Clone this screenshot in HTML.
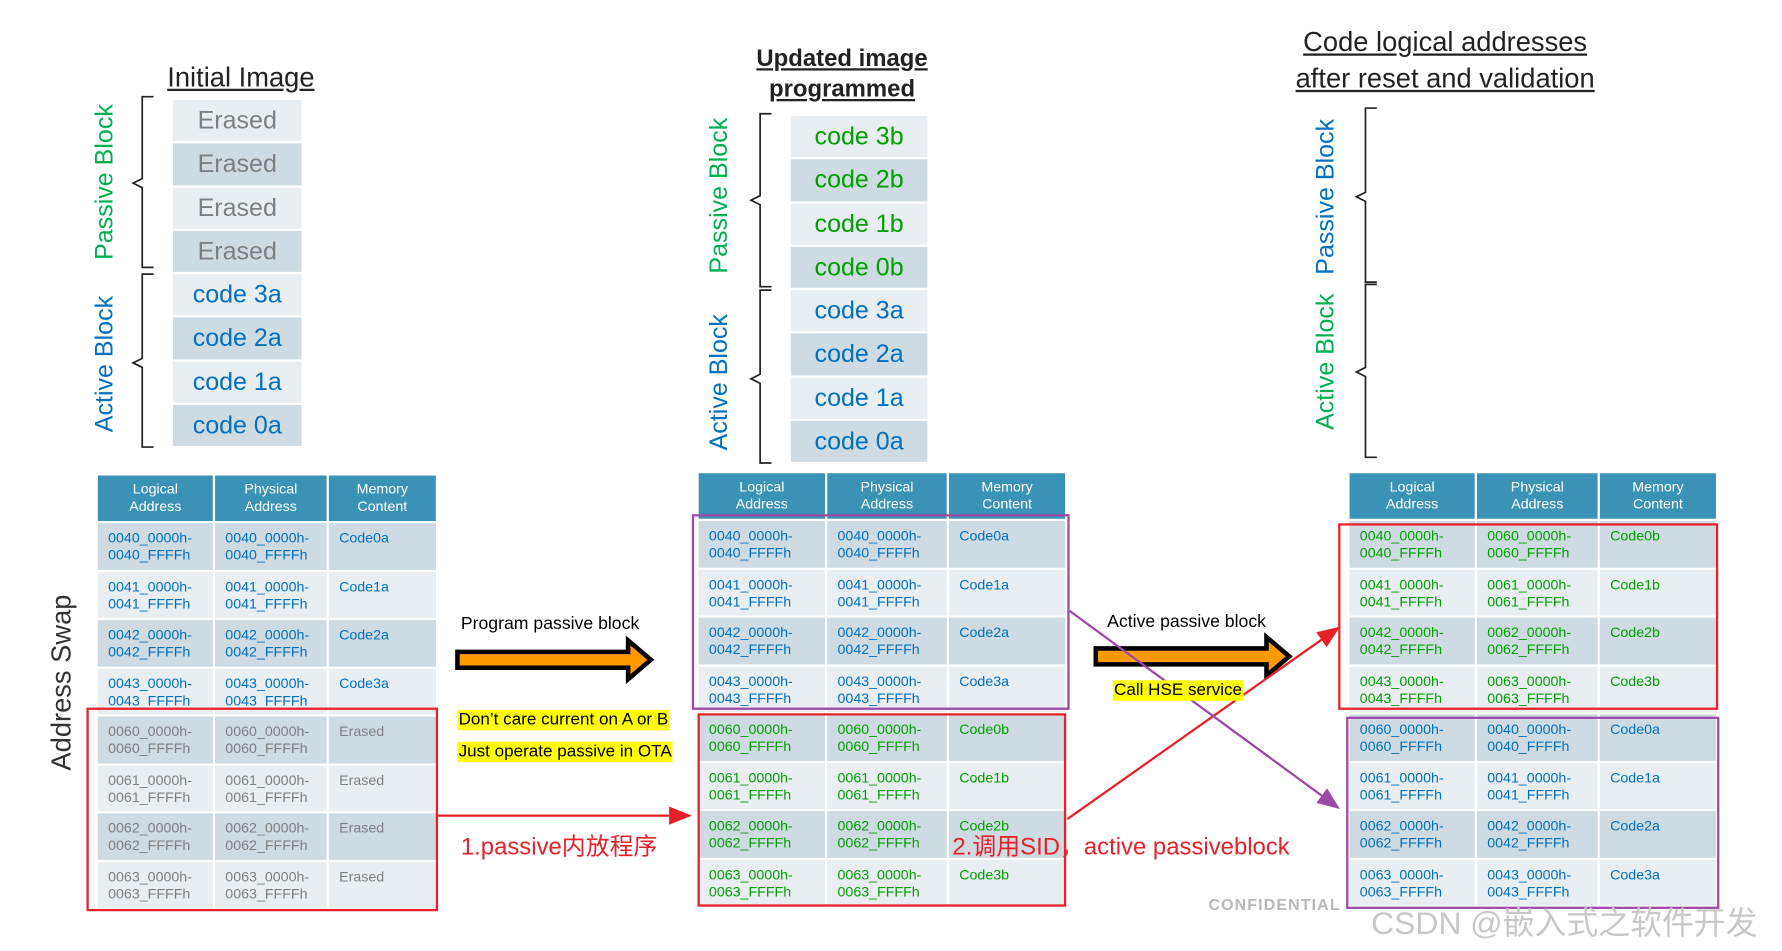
<!DOCTYPE html>
<html><head><meta charset="utf-8"><style>
body{margin:0;background:#fff;width:1782px;height:951px;overflow:hidden}
#c{position:absolute;left:0;top:0;width:1566px;height:836px;transform:scale(1.1379,1.1376);transform-origin:0 0;font-family:"Liberation Sans","Noto Sans CJK SC",sans-serif}
.a{position:absolute}
.stk{position:absolute}
.stk div{height:36.3px;margin-bottom:2px;text-align:center;font-size:22px;line-height:36px}
.l{background:#e8eef2}.d{background:#cfdbe3}
.g{color:#00a000}.b{color:#0070c0}.e{color:#7f7f7f}
.rot{position:absolute;transform:translate(-50%,-50%) rotate(-90deg);white-space:nowrap;font-size:22px}
table{position:absolute;border-collapse:separate;border-spacing:2px;font-size:12.5px;line-height:15px}
th{background:#3a93b6;color:#fff;font-weight:normal;height:40px;line-height:15px;padding:0}
td{vertical-align:top;padding:6px 0 0 9px;height:34.5px}
tr.d td{background:#cfdbe3}tr.l td{background:#e8eef2}
.box{position:absolute;border:2px solid}
.title{position:absolute;text-decoration:underline;text-align:center;color:#222;white-space:nowrap}
.hl{position:absolute;background:#ffff00;font-size:15px;line-height:18px;white-space:nowrap;padding:0 1px;z-index:5}
.top{z-index:5}
</style></head><body><div id="c">

<!-- LEFT -->
<div class="title" style="left:147px;top:55px;font-size:24px">Initial Image</div>
<div class="stk" style="left:152px;top:88px;width:113px">
<div class="l e">Erased</div><div class="d e">Erased</div><div class="l e">Erased</div><div class="d e">Erased</div>
<div class="l b">code 3a</div><div class="d b">code 2a</div><div class="l b">code 1a</div><div class="d b">code 0a</div>
</div>
<div class="rot" style="left:92px;top:160px;color:#00b050">Passive Block</div>
<div class="rot" style="left:92px;top:320px;color:#0070c0">Active Block</div>
<div class="rot" style="left:55px;top:600px;color:#333;font-size:24px">Address Swap</div>

<!-- MIDDLE -->
<div class="title" style="left:640px;top:38px;width:200px;font-size:21px;font-weight:bold;line-height:27px">Updated image <br>programmed</div>
<div class="stk" style="left:695px;top:102px;width:120px">
<div class="l g">code 3b</div><div class="d g">code 2b</div><div class="l g">code 1b</div><div class="d g">code 0b</div>
<div class="l b">code 3a</div><div class="d b">code 2a</div><div class="l b">code 1a</div><div class="d b">code 0a</div>
</div>
<div class="rot" style="left:632px;top:172px;color:#00b050">Passive Block</div>
<div class="rot" style="left:632px;top:336px;color:#0070c0">Active Block</div>

<!-- RIGHT -->
<div class="title" style="left:1100px;top:22px;width:340px;font-size:24px;line-height:32px">Code logical addresses<br>after reset and validation</div>
<div class="rot" style="left:1165px;top:173px;color:#0070c0">Passive Block</div>
<div class="rot" style="left:1165px;top:318px;color:#00b050">Active Block</div>

<svg class="a" style="left:0;top:0;z-index:4" width="1566" height="836">
<defs>
<marker id="mr" markerWidth="10" markerHeight="8" refX="9" refY="4" orient="auto"><path d="M0,0L10,4L0,8z" fill="#e8202a"/></marker>
<marker id="mp" markerWidth="10" markerHeight="8" refX="9" refY="4" orient="auto"><path d="M0,0L10,4L0,8z" fill="#9b4aa8"/></marker>
</defs>
<g fill="none" stroke="#222" stroke-width="1.5">
<path d="M135,85 h-10 v72 l-8,4 l8,4 v70 h10"/>
<path d="M135,241 h-10 v74 l-8,4 l8,4 v70 h10"/>
<path d="M678,100 h-10 v72 l-8,4 l8,4 v72 h10"/>
<path d="M678,255 h-10 v74 l-8,4 l8,4 v70 h10"/>
<path d="M1210,95 h-10 v74 l-8,4 l8,4 v71 h10"/>
<path d="M1210,250 h-10 v73 l-8,4 l8,4 v71 h10"/>
</g>
<path d="M402,573 h150 v-10 l20,17 l-20,17 v-10 h-150z" fill="#ff9900" stroke="#000" stroke-width="4"/>
<path d="M963,570 h150 v-10 l20,17 l-20,17 v-10 h-150z" fill="#ff9900" stroke="#000" stroke-width="4"/>
<line x1="385" y1="717" x2="606" y2="717" stroke="#e8202a" stroke-width="2" marker-end="url(#mr)"/>
<line x1="938" y1="720" x2="1176" y2="552" stroke="#e8202a" stroke-width="2" marker-end="url(#mr)"/>
<line x1="940" y1="537" x2="1176" y2="710" stroke="#9b4aa8" stroke-width="2" marker-end="url(#mp)"/>
</svg>

<div class="a top" style="left:405px;top:540px;font-size:15.5px">Program passive block</div>
<div class="hl" style="left:402px;top:624px">Don’t care current on A or B</div>
<div class="hl" style="left:402px;top:652px">Just operate passive in OTA</div>
<div class="a top" style="left:405px;top:728px;font-size:21px;color:#e8202a;white-space:nowrap">1.passive内放程序</div>
<div class="a top" style="left:973px;top:538px;font-size:15.5px">Active passive block</div>
<div class="hl" style="left:978px;top:598px">Call HSE service</div>
<div class="a top" style="left:837px;top:728px;font-size:21px;color:#e8202a;white-space:nowrap">2.调用SID，active passiveblock</div>

<!-- LEFT TABLE -->
<table style="left:84px;top:416px">
<tr><th style="width:101px">Logical<br>Address</th><th style="width:98px">Physical<br>Address</th><th style="width:94px">Memory<br>Content</th></tr>
<tr class="d b"><td>0040_0000h-<br>0040_FFFFh</td><td>0040_0000h-<br>0040_FFFFh</td><td>Code0a</td></tr>
<tr class="l b"><td>0041_0000h-<br>0041_FFFFh</td><td>0041_0000h-<br>0041_FFFFh</td><td>Code1a</td></tr>
<tr class="d b"><td>0042_0000h-<br>0042_FFFFh</td><td>0042_0000h-<br>0042_FFFFh</td><td>Code2a</td></tr>
<tr class="l b"><td>0043_0000h-<br>0043_FFFFh</td><td>0043_0000h-<br>0043_FFFFh</td><td>Code3a</td></tr>
<tr class="d e"><td>0060_0000h-<br>0060_FFFFh</td><td>0060_0000h-<br>0060_FFFFh</td><td>Erased</td></tr>
<tr class="l e"><td>0061_0000h-<br>0061_FFFFh</td><td>0061_0000h-<br>0061_FFFFh</td><td>Erased</td></tr>
<tr class="d e"><td>0062_0000h-<br>0062_FFFFh</td><td>0062_0000h-<br>0062_FFFFh</td><td>Erased</td></tr>
<tr class="l e"><td>0063_0000h-<br>0063_FFFFh</td><td>0063_0000h-<br>0063_FFFFh</td><td>Erased</td></tr>
</table>
<div class="box" style="left:76px;top:622px;width:305px;height:175px;border-color:#e8202a"></div>

<!-- MIDDLE TABLE -->
<table style="left:612px;top:414px">
<tr><th style="width:111px">Logical<br>Address</th><th style="width:105px">Physical<br>Address</th><th style="width:102px">Memory<br>Content</th></tr>
<tr class="d b"><td>0040_0000h-<br>0040_FFFFh</td><td>0040_0000h-<br>0040_FFFFh</td><td>Code0a</td></tr>
<tr class="l b"><td>0041_0000h-<br>0041_FFFFh</td><td>0041_0000h-<br>0041_FFFFh</td><td>Code1a</td></tr>
<tr class="d b"><td>0042_0000h-<br>0042_FFFFh</td><td>0042_0000h-<br>0042_FFFFh</td><td>Code2a</td></tr>
<tr class="l b"><td>0043_0000h-<br>0043_FFFFh</td><td>0043_0000h-<br>0043_FFFFh</td><td>Code3a</td></tr>
<tr class="d g"><td>0060_0000h-<br>0060_FFFFh</td><td>0060_0000h-<br>0060_FFFFh</td><td>Code0b</td></tr>
<tr class="l g"><td>0061_0000h-<br>0061_FFFFh</td><td>0061_0000h-<br>0061_FFFFh</td><td>Code1b</td></tr>
<tr class="d g"><td>0062_0000h-<br>0062_FFFFh</td><td>0062_0000h-<br>0062_FFFFh</td><td>Code2b</td></tr>
<tr class="l g"><td>0063_0000h-<br>0063_FFFFh</td><td>0063_0000h-<br>0063_FFFFh</td><td>Code3b</td></tr>
</table>
<div class="box" style="left:608px;top:452px;width:328px;height:168px;border-color:#9b4aa8"></div>
<div class="box" style="left:613px;top:627px;width:320px;height:166px;border-color:#e8202a"></div>

<!-- RIGHT TABLE -->
<table style="left:1184px;top:414px">
<tr><th style="width:110px">Logical<br>Address</th><th style="width:106px">Physical<br>Address</th><th style="width:102px">Memory<br>Content</th></tr>
<tr class="d g"><td>0040_0000h-<br>0040_FFFFh</td><td>0060_0000h-<br>0060_FFFFh</td><td>Code0b</td></tr>
<tr class="l g"><td>0041_0000h-<br>0041_FFFFh</td><td>0061_0000h-<br>0061_FFFFh</td><td>Code1b</td></tr>
<tr class="d g"><td>0042_0000h-<br>0042_FFFFh</td><td>0062_0000h-<br>0062_FFFFh</td><td>Code2b</td></tr>
<tr class="l g"><td>0043_0000h-<br>0043_FFFFh</td><td>0063_0000h-<br>0063_FFFFh</td><td>Code3b</td></tr>
<tr class="d b"><td>0060_0000h-<br>0060_FFFFh</td><td>0040_0000h-<br>0040_FFFFh</td><td>Code0a</td></tr>
<tr class="l b"><td>0061_0000h-<br>0061_FFFFh</td><td>0041_0000h-<br>0041_FFFFh</td><td>Code1a</td></tr>
<tr class="d b"><td>0062_0000h-<br>0062_FFFFh</td><td>0042_0000h-<br>0042_FFFFh</td><td>Code2a</td></tr>
<tr class="l b"><td>0063_0000h-<br>0063_FFFFh</td><td>0043_0000h-<br>0043_FFFFh</td><td>Code3a</td></tr>
</table>
<div class="box" style="left:1176px;top:460px;width:330px;height:160px;border-color:#e8202a"></div>
<div class="box" style="left:1183px;top:630px;width:324px;height:165px;border-color:#9b4aa8"></div>

<div class="a" style="left:1062px;top:787px;font-size:14px;font-weight:bold;color:#b8b8b8;letter-spacing:1px">CONFIDENTIAL</div>
<div class="a top" style="left:1205px;top:790px;font-size:28px;color:#c8c8c8;white-space:nowrap">CSDN @嵌入式之软件开发</div>
</div></body></html>
